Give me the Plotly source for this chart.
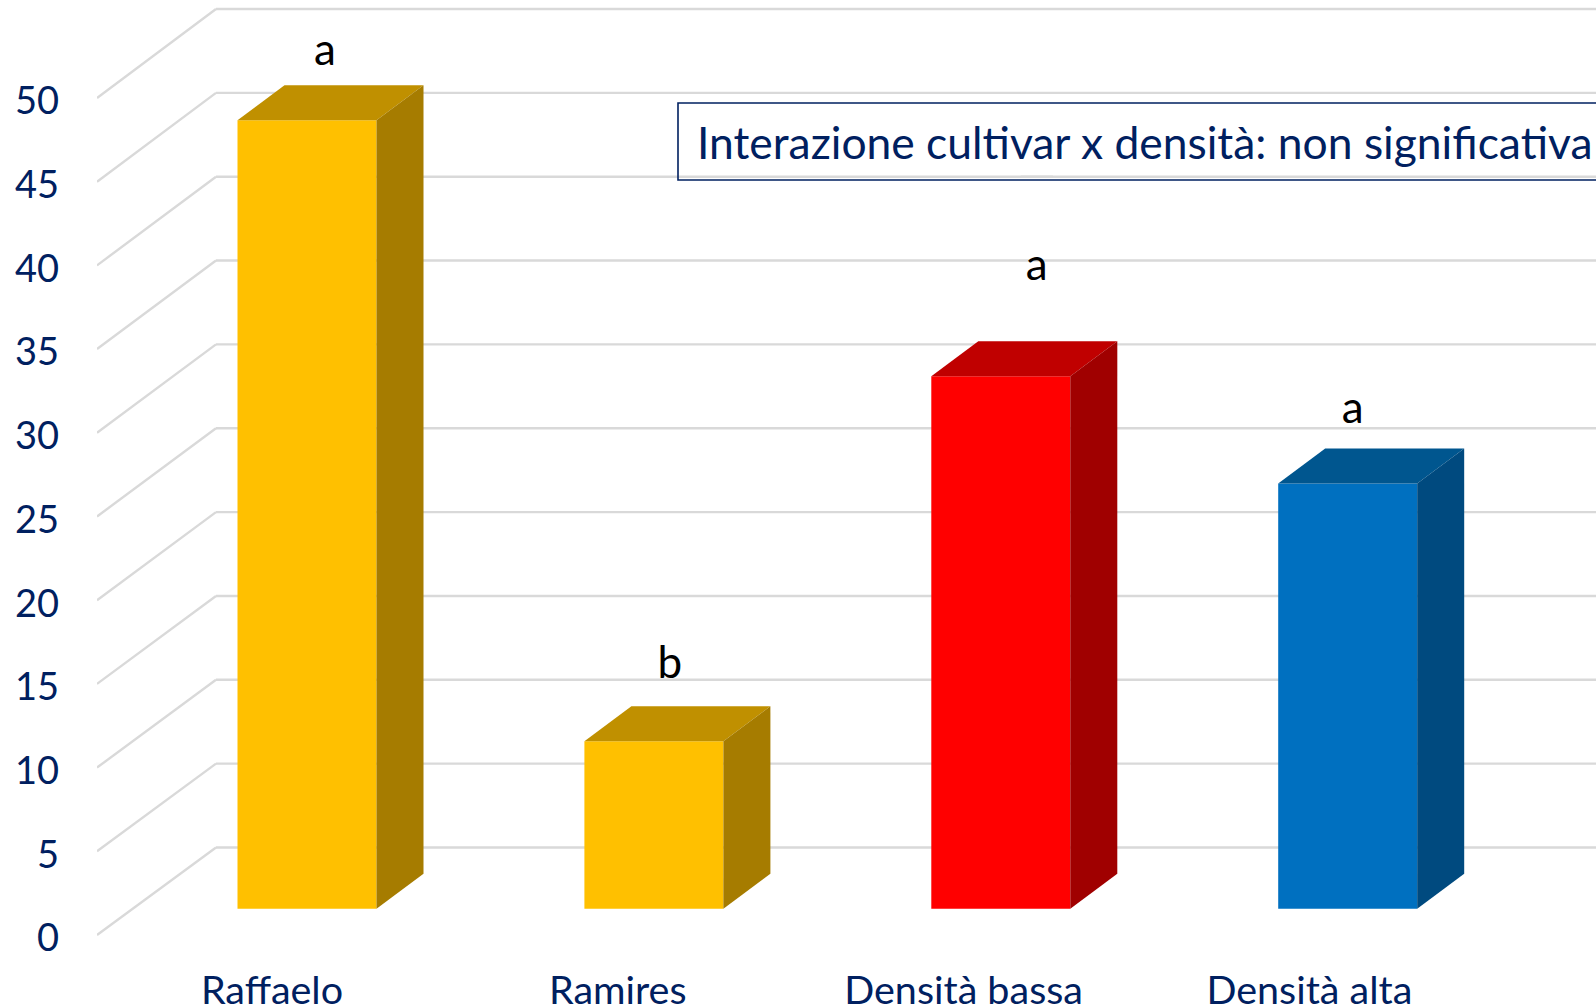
import plotly.graph_objects as go

# ---- data ----
categories = ["Raffaelo", "Ramires", "Densità bassa", "Densità alta"]
values = [47.1, 10.0, 31.8, 25.4]
letters = ["a", "b", "a", "a"]
y_ticks = [0, 5, 10, 15, 20, 25, 30, 35, 40, 45, 50]
note = "Interazione cultivar x densità: non significativa"

# ---- geometry / style ----
W, H = 1596, 1008
ML, MB = 97, 63
Y0_PX = 935             # pixel of value 0 on the front plane
PX_X = 346.9            # pixels per category
PX_Y = 16.74            # pixels per value unit
X0_PX = 272             # pixel of category 0 label
xmin = (ML - X0_PX) / PX_X
xmax = (W - X0_PX) / PX_X
ymin = (Y0_PX - (H - MB)) / PX_Y
ymax = Y0_PX / PX_Y
dx = lambda p: p / PX_X
dy = lambda p: p / PX_Y

FRONT = ["#FFC000", "#FFC000", "#FF0000", "#0070C0"]
TOP = ["#C09000", "#C09000", "#C00000", "#00568F"]
SIDE = ["#A67C00", "#A67C00", "#A00000", "#004A7F"]
NAVY = "#002060"
GRID = "#D9D9D9"
FONT = "Lato, Carlito, 'Open Sans', sans-serif"
GRID_W = 2.4

BAR_W = dx(139)
BAR_SHIFT = dx(35)
BASE = dy(26.3)
DEPTH_X, DEPTH_Y = dx(47), dy(35)
WALL_X, WALL_Y = dx(119), dy(87.5)
WALL_SCALE = 1.0018     # the back wall is a touch taller than the front
LABEL_SHIFT = dy(3)     # tick labels sit just under their diagonals
TICK_PITCH = 345.8 / PX_X
letter_dx = [dx(18), dx(16), dx(36), dx(5)]
letter_dy = [dy(66), dy(74), dy(107), dy(72)]

pos = list(range(len(categories)))
centers = [p + BAR_SHIFT for p in pos]

fig = go.Figure()
fig.add_trace(go.Bar(
    x=centers, y=values, base=BASE, width=BAR_W,
    marker=dict(color=FRONT, line=dict(width=0)),
    hoverinfo="skip",
))

for i, (c, v) in enumerate(zip(centers, values)):
    l, r = c - BAR_W / 2, c + BAR_W / 2
    b, t = BASE, BASE + v
    fig.add_trace(go.Scatter(
        x=[l, r, r + DEPTH_X, l + DEPTH_X, l],
        y=[t, t, t + DEPTH_Y, t + DEPTH_Y, t],
        mode="lines", fill="toself", fillcolor=TOP[i],
        line=dict(width=0), hoverinfo="skip",
    ))
    fig.add_trace(go.Scatter(
        x=[r, r + DEPTH_X, r + DEPTH_X, r, r],
        y=[b, b + DEPTH_Y, t + DEPTH_Y, t, b],
        mode="lines", fill="toself", fillcolor=SIDE[i],
        line=dict(width=0), hoverinfo="skip",
    ))

fig.add_trace(go.Scatter(
    x=[c + d for c, d in zip(centers, letter_dx)],
    y=[BASE + v + d for v, d in zip(values, letter_dy)],
    text=letters, mode="text", textposition="middle center",
    textfont=dict(family=FONT, size=44, color="#000000"),
    hoverinfo="skip",
))

shapes = []
for t in y_ticks:
    back = t * WALL_SCALE + WALL_Y
    # side wall diagonal and back wall gridline
    shapes.append(dict(type="line", xref="x", yref="y", layer="below",
                       x0=xmin, y0=t, x1=xmin + WALL_X, y1=back,
                       line=dict(color=GRID, width=GRID_W)))
    shapes.append(dict(type="line", xref="x", yref="y", layer="below",
                       x0=xmin + WALL_X, y0=back, x1=xmax, y1=back,
                       line=dict(color=GRID, width=GRID_W)))

# the 40 gridline runs across the top of the third letter
back40 = 40 * WALL_SCALE + WALL_Y
shapes.append(dict(type="line", xref="x", yref="y", layer="above",
                   x0=centers[2] + letter_dx[2] - dx(16), x1=centers[2] + letter_dx[2] + dx(16),
                   y0=back40, y1=back40, line=dict(color=GRID, width=GRID_W)))

# note box, running off the right edge
box_l = xmin + dx(678 - ML)
box_t, box_b = (Y0_PX - 103) / PX_Y, (Y0_PX - 180) / PX_Y
shapes.append(dict(type="path", xref="x", yref="y", layer="above",
                   path=f"M {xmax + 1} {box_t} L {box_l} {box_t} L {box_l} {box_b} L {xmax + 1} {box_b}",
                   line=dict(color=NAVY, width=1.6)))

fig.update_layout(
    width=W, height=H,
    margin=dict(l=ML, r=0, t=0, b=MB, pad=0, autoexpand=False),
    paper_bgcolor="white", plot_bgcolor="white",
    showlegend=False,
    shapes=shapes,
    annotations=[dict(
        xref="x", yref="y", x=box_l + dx(17), y=(Y0_PX - 141) / PX_Y,
        text=note, showarrow=False, xanchor="left", yanchor="middle",
        font=dict(family=FONT, size=44.4, color=NAVY),
    )],
    xaxis=dict(
        range=[xmin, xmax], tickmode="array",
        tickvals=[p * TICK_PITCH for p in pos], ticktext=categories,
        showgrid=False, zeroline=False, showline=False, ticks="",
        ticklabelstandoff=18, tickfont=dict(family=FONT, size=39.5, color=NAVY),
    ),
    yaxis=dict(
        range=[ymin, ymax], tickmode="array",
        tickvals=[t - LABEL_SHIFT for t in y_ticks], ticktext=[str(t) for t in y_ticks],
        showgrid=False, zeroline=False, showline=False, ticks="",
        ticklabelstandoff=37, tickfont=dict(family=FONT, size=38, color=NAVY),
    ),
)

fig.write_html(
    "out.html",
    config={"displayModeBar": False},
    post_script="document.body.style.margin='0';document.body.style.overflow='hidden';",
)
